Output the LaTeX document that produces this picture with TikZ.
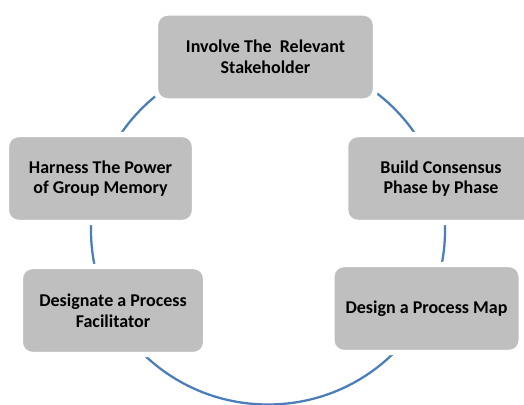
\documentclass[tikz,border=0pt]{standalone}
\usepackage{fontspec}
\setmainfont{Carlito}
\usetikzlibrary{positioning}
\definecolor{boxgray}{RGB}{191,191,191}
\definecolor{ringblue}{RGB}{74,126,187}
\tikzstyle{rect} = [rectangle, rounded corners=9pt, minimum height=66pt, text centered, align=center, draw=white, line width=4pt, fill=boxgray, font=\fontsize{13.5}{15.5}\selectfont\bfseries]
\tikzstyle{ring} = [draw=ringblue, line width=1.7pt]

\begin{document}
\begin{tikzpicture}[x=0.75pt, y=-0.75pt]
    \useasboundingbox (0,0) rectangle (524,404);
    \coordinate (ctr) at (268,230.5);
    \draw [ring] (ctr) ellipse [x radius=132.75pt, y radius=130.5pt];
    \node (s1) [rect, minimum width=165pt] at (265.5,57) {Involve The\ \ Relevant\\Stakeholder};
    \node (s2) [rect, minimum width=143pt] at (441,178.5) {Build Consensus\\Phase by Phase};
    \node (s3) [rect, minimum width=142pt] at (426.5,308.5) {Design a Process Map};
    \node (s4) [rect, minimum width=139pt] at (113,310.5) {Designate a Process\\Facilitator};
    \node (s5) [rect, minimum width=141pt] at (100.5,178.5) {Harness The Power\\of Group Memory};
\end{tikzpicture}
\end{document}
